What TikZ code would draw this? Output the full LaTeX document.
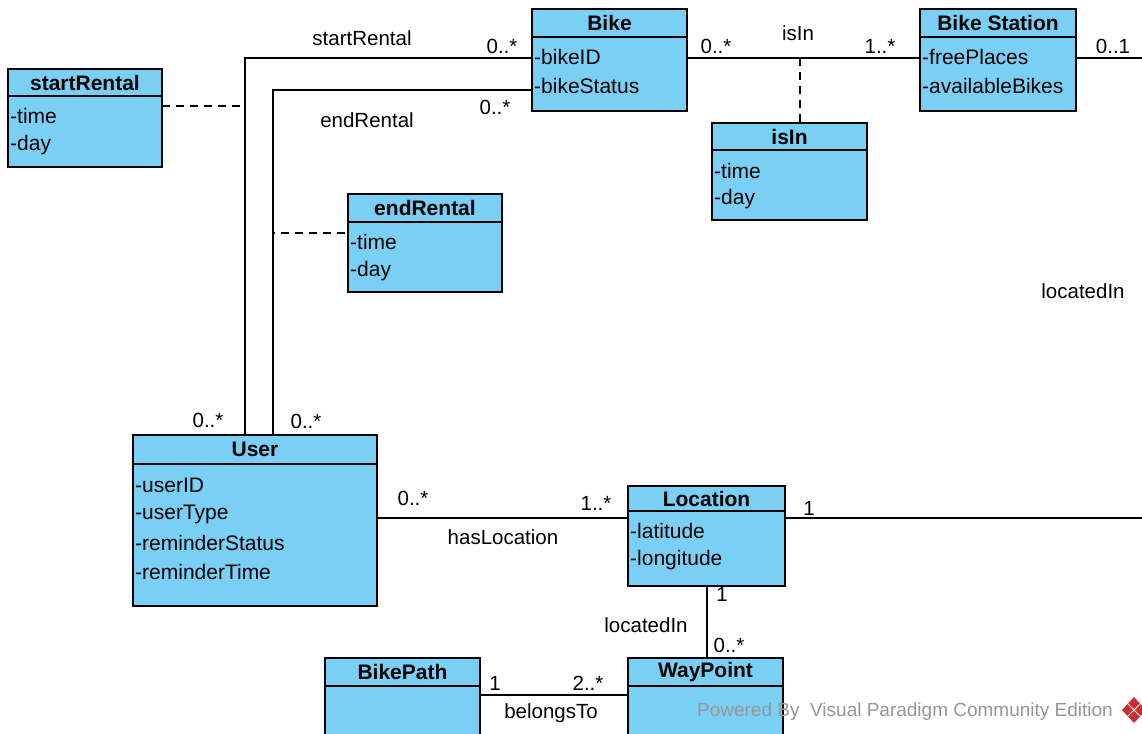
\documentclass[tikz,border=0pt]{standalone}
\usepackage{fontspec}
\setmainfont{Liberation Sans}
\usetikzlibrary{calc}
\definecolor{classfill}{RGB}{122,207,245}
\definecolor{wmgray}{RGB}{150,150,150}
\definecolor{logored}{RGB}{205,45,45}

\tikzset{
  cls/.style={draw=black, fill=classfill, line width=1.3pt, anchor=north west, inner sep=0pt, outer sep=0pt},
  ctitle/.style={font=\fontsize{21}{24}\selectfont\bfseries, inner sep=0pt},
  attr/.style={font=\fontsize{21}{24}\selectfont, inner sep=0pt, anchor=west},
  lbl/.style={font=\fontsize{20.5}{24}\selectfont, inner sep=0pt},
  assoc/.style={line width=1.3pt},
  link/.style={line width=1.3pt, dash pattern=on 8pt off 6pt},
}

% class box: name, x, y, width, height, header height, title
\newcommand\umlbox[7]{%
  \node[cls, minimum width=#4pt, minimum height=#5pt] (#1) at (#2,#3) {};
  \draw[line width=1.3pt] ([yshift=-#6pt]#1.north west) -- ([yshift=-#6pt]#1.north east);
  \node[ctitle] (#1-title) at ($(#1.north)!0.5!([yshift=-#6pt]#1.north)$) {#7};
}

\begin{document}
\begin{tikzpicture}[x=1pt, y=-1pt]
\clip (0,0) rectangle (1142,733);
\fill[white] (0,0) rectangle (1142,733);

% classes
\umlbox{sr}{8}{69}{154}{98}{27}{startRental}
\node[attr] (sr-a1) at (10,116) {-time};
\node[attr] (sr-a2) at (10,145) {-day};

\umlbox{bike}{532}{9}{155}{102}{28}{Bike}
\node[attr] (bike-a1) at (534,57) {-bikeID};
\node[attr] (bike-a2) at (534,86) {-bikeStatus};

\umlbox{bs}{920}{9}{156}{102}{28}{Bike Station}
\node[attr] (bs-a1) at (922,57) {-freePlaces};
\node[attr] (bs-a2) at (922,86) {-availableBikes};

\umlbox{isin}{712}{123}{155}{97}{27}{isIn}
\node[attr] (isin-a1) at (714,171) {-time};
\node[attr] (isin-a2) at (714,199) {-day};

\umlbox{er}{348}{194}{154}{98}{28}{endRental}
\node[attr] (er-a1) at (350,242) {-time};
\node[attr] (er-a2) at (350,271) {-day};

\umlbox{user}{133}{435}{244}{171}{29}{User}
\node[attr] (user-a1) at (135,485) {-userID};
\node[attr] (user-a2) at (135,514) {-userType};
\node[attr] (user-a3) at (135,543) {-reminderStatus};
\node[attr] (user-a4) at (135,572) {-reminderTime};

\umlbox{loc}{628}{486}{157}{100}{25}{Location}
\node[attr] (loc-a1) at (630,531) {-latitude};
\node[attr] (loc-a2) at (630,560) {-longitude};

\umlbox{wp}{628}{658}{155}{110}{28}{WayPoint}
\umlbox{bp}{325}{658}{155}{110}{28}{BikePath}

% free ends at the right border
\coordinate (bsout) at (1142,58);
\coordinate (locout) at (1142,518);

% associations
\draw[assoc] ([xshift=112pt]user.north west) coordinate (usr1) |- ([yshift=-49pt]bike.north west);
\draw[assoc] ([xshift=140pt]user.north west) coordinate (usr2) |- ([yshift=-81pt]bike.north west);
\draw[assoc] ([yshift=-49pt]bike.north east) -- ([yshift=-49pt]bs.north west);
\draw[assoc] ([yshift=-49pt]bs.north east) -- (bsout);
\draw[assoc] ([yshift=-83pt]user.north east) -- ([yshift=-32pt]loc.north west);
\draw[assoc] ([yshift=-32pt]loc.north east) -- (locout);
\draw[assoc] ([xshift=79pt]loc.south west) -- ([xshift=79pt]wp.north west);
\draw[assoc] ([yshift=-37pt]bp.north east) -- ([yshift=-37pt]wp.north west);

% association class links
\coordinate (srmid) at (245,106);
\coordinate (ermid) at (273,233);
\coordinate (isinmid) at (800,58);
\draw[link] ([yshift=-37pt]sr.north east) -- (srmid);
\draw[link, dash phase=6pt] (ermid) -- ([yshift=-39pt]er.north west);
\draw[link] (isinmid) -- (isin.north -| isinmid);

% labels and multiplicities
\node[lbl] (l1) at (362,38) {startRental};
\node[lbl] (l2) at (502,46) {0..*};
\node[lbl] (l3) at (367,120) {endRental};
\node[lbl] (l4) at (495,107) {0..*};
\node[lbl] (l5) at (208,420) {0..*};
\node[lbl] (l6) at (306,421) {0..*};
\node[lbl] (l7) at (798,33) {isIn};
\node[lbl] (l8) at (716,46) {0..*};
\node[lbl] (l9) at (880,46) {1..*};
\node[lbl] (l10) at (1113,46) {0..1};
\node[lbl] (l11) at (1083,291) {locatedIn};
\node[lbl] (l12) at (413,498) {0..*};
\node[lbl] (l13) at (596,503) {1..*};
\node[lbl] (l14) at (503,537) {hasLocation};
\node[lbl] (l15) at (809,508) {1};
\node[lbl] (l16) at (722,594) {1};
\node[lbl] (l17) at (729,645) {0..*};
\node[lbl] (l18) at (646,625) {locatedIn};
\node[lbl] (l19) at (495,683) {1};
\node[lbl] (l20) at (588,683) {2..*};
\node[lbl] (l21) at (551,713) {belongsTo};

% editor watermark
\node[font=\fontsize{19}{22}\selectfont, text=wmgray, inner sep=0pt] (wm) at (905,712) {Powered By\ \ Visual Paradigm Community Edition};
\fill[logored] (1134,697) -- (1146,710) -- (1134,723) -- (1122,710) -- cycle;
\draw[white, line width=1pt] (1128,704) -- (1140,716) (1128,716) -- (1140,704);
\end{tikzpicture}
\end{document}
